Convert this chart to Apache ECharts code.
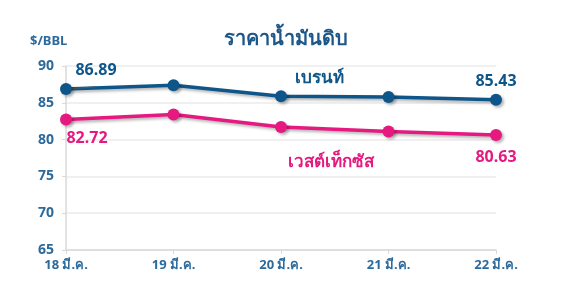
<!DOCTYPE html>
<html><head><meta charset="utf-8">
<script src="https://cdn.jsdelivr.net/npm/echarts@6/dist/echarts.min.js"></script>
<style>html,body{margin:0;padding:0;background:#fff;}#c{width:572px;height:299px;}</style>
</head><body><div id="c"></div>
<script>
const categories = ['18 มี.ค.', '19 มี.ค.', '20 มี.ค.', '21 มี.ค.', '22 มี.ค.'];
const brent = [86.89, 87.4, 85.9, 85.8, 85.43];
const wti = [82.72, 83.4, 81.7, 81.1, 80.63];
const seriesNames = ['เบรนท์', 'เวสต์เท็กซัส'];
const yTicks = [65, 70, 75, 80, 85, 90];

const BLUE = '#0e5689';
const PINK = '#e5197f';
const AXISTXT = '#2c6a9c';
const FONT = 'Noto Sans, sans-serif';

function withLabels(values, color, first, last) {
  return values.map((v, i) => {
    if (i === 0) return { value: v, label: Object.assign({ show: true, color, fontSize: 16, fontWeight: 'bold', fontFamily: FONT, formatter: v.toFixed(2) }, first), labelLine: first.labelLine };
    if (i === values.length - 1) return { value: v, label: Object.assign({ show: true, color, fontSize: 16, fontWeight: 'bold', fontFamily: FONT, formatter: v.toFixed(2) }, last) };
    return v;
  });
}

const chart = echarts.init(document.getElementById('c'), null, { renderer: 'canvas' });
chart.setOption({
  animation: false,
  title: {
    text: 'ราคาน้ำมันดิบ', left: 'center', top: 24,
    textStyle: { color: '#1d578a', fontSize: 20, fontWeight: 'bold', fontFamily: FONT }
  },
  grid: { left: 66, right: 76, top: 66, bottom: 49 },
  xAxis: {
    type: 'category', data: categories, boundaryGap: false,
    axisLine: { lineStyle: { color: '#d9d9d9', width: 1.5 } },
    axisTick: { show: true, lineStyle: { color: '#d9d9d9' }, length: 4 },
    axisLabel: { color: AXISTXT, fontSize: 13, fontWeight: 'bold', fontFamily: FONT, margin: 9 },
    splitLine: { show: false }
  },
  yAxis: {
    type: 'value', min: yTicks[0], max: yTicks[yTicks.length - 1], interval: 5,
    axisLine: { show: true, lineStyle: { color: '#d9d9d9', width: 1.5 } },
    axisTick: { show: true, inside: false, lineStyle: { color: '#d9d9d9' }, length: 4 },
    axisLabel: { color: AXISTXT, fontSize: 14, fontWeight: 'bold', fontFamily: FONT, margin: 12 },
    splitLine: { lineStyle: { color: '#ebebeb', width: 1.5 } }
  },
  graphic: [
    { type: 'text', left: 30, top: 35, style: { text: '$/BBL', fill: AXISTXT, font: 'bold 13px Noto Sans, sans-serif' } },
    { type: 'text', left: 295, top: 70, style: { text: seriesNames[0], fill: BLUE, font: 'bold 17px Noto Sans, sans-serif' } },
    { type: 'text', left: 288, top: 154, style: { text: seriesNames[1], fill: PINK, font: 'bold 17px Noto Sans, sans-serif' } }
  ],
  series: [
    {
      name: seriesNames[0], type: 'line', data: withLabels(brent, BLUE,
        { position: 'top', offset: [30, 1], labelLine: { show: true, lineStyle: { color: '#555', width: 1 } } },
        { position: 'top', offset: [0, 1] }),
      symbol: 'circle', symbolSize: 12,
      lineStyle: { color: BLUE, width: 3.5, shadowColor: 'rgba(0,0,0,0.3)', shadowBlur: 3, shadowOffsetX: 2, shadowOffsetY: 2 },
      itemStyle: { color: BLUE, shadowColor: 'rgba(0,0,0,0.3)', shadowBlur: 3, shadowOffsetX: 2, shadowOffsetY: 2 }
    },
    {
      name: seriesNames[1], type: 'line', data: withLabels(wti, PINK,
        { position: 'bottom', offset: [21, 0] },
        { position: 'bottom', offset: [0, 3] }),
      symbol: 'circle', symbolSize: 12,
      lineStyle: { color: PINK, width: 3.5, shadowColor: 'rgba(0,0,0,0.3)', shadowBlur: 3, shadowOffsetX: 2, shadowOffsetY: 2 },
      itemStyle: { color: PINK, shadowColor: 'rgba(0,0,0,0.3)', shadowBlur: 3, shadowOffsetX: 2, shadowOffsetY: 2 }
    }
  ]
});
</script></body></html>
